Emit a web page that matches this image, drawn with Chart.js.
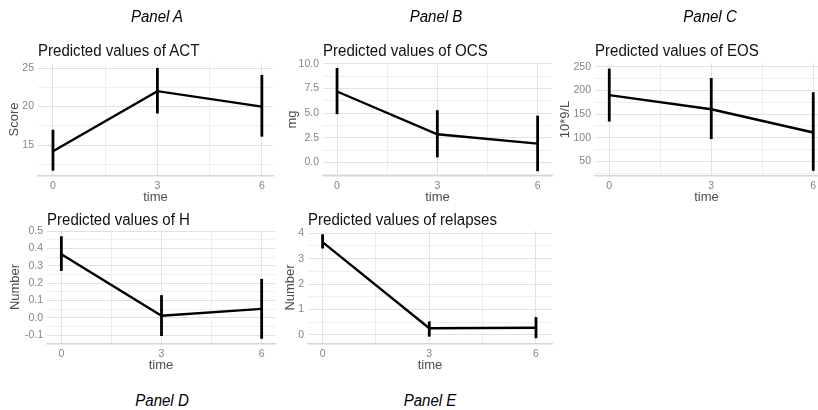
<!DOCTYPE html>
<html><head><meta charset="utf-8">
<script src="https://cdn.jsdelivr.net/npm/chart.js@4/dist/chart.umd.min.js"></script>
<style>
body{margin:0;background:#fff;}
#wrap{position:relative;width:818px;height:410px;overflow:hidden;background:#fff;font-family:"Liberation Sans",Arial,sans-serif;}
.plabel{position:absolute;font-style:italic;font-size:16px;color:#000;transform:translateX(-50%) scaleX(0.94);white-space:nowrap;line-height:18px;}
.ptitle{position:absolute;font-size:16px;color:#111;white-space:nowrap;line-height:18px;transform:scaleX(0.94);transform-origin:0 50%;}
canvas{position:absolute;}
</style></head><body><div id="wrap"></div>
<script>
// ---- data ----
const times = [0, 3, 6];
const xTickLabels = [0, 3, 6];

const actMean = [14.2, 22.0, 20.0];
const actLow  = [11.7, 19.1, 16.1];
const actHigh = [17.0, 25.0, 24.1];
const actTicks = [15, 20, 25];

const ocsMean = [7.2, 2.85, 1.9];
const ocsLow  = [4.9, 0.5, -0.9];
const ocsHigh = [9.6, 5.3, 4.75];
const ocsTicks = [0, 2.5, 5, 7.5, 10];

const eosMean = [190, 160, 111];
const eosLow  = [134, 97, 30];
const eosHigh = [246, 226, 196];
const eosTicks = [50, 100, 150, 200, 250];

const hMean = [0.367, 0.013, 0.052];
const hLow  = [0.27, -0.104, -0.12];
const hHigh = [0.47, 0.131, 0.225];
const hTicks = [-0.1, 0, 0.1, 0.2, 0.3, 0.4, 0.5];

const relMean = [3.65, 0.26, 0.28];
const relLow  = [3.4, -0.07, -0.13];
const relHigh = [3.96, 0.53, 0.7];
const relTicks = [0, 1, 2, 3, 4];

const panelLabels = ["Panel A", "Panel B", "Panel C", "Panel D", "Panel E"];

// ---- drawing ----
const wrap = document.getElementById('wrap');
const FONT = "'Liberation Sans', Arial, sans-serif";
const AXIS_TITLE_SIZE = 13;

function withMinors(majors, min, max) {
  const step = majors.length > 1 ? majors[1] - majors[0] : 1;
  const all = [];
  const first = majors[0] - step / 2, last = majors[majors.length - 1] + step / 2;
  if (first >= min) all.push({v: first, major: false});
  majors.forEach((m, i) => {
    all.push({v: m, major: true});
    if (i < majors.length - 1) all.push({v: m + step / 2, major: false});
  });
  if (last <= max) all.push({v: last, major: false});
  return all.filter(t => t.v >= min - 1e-9 && t.v <= max + 1e-9);
}

function fmt(v, dec) { return dec ? v.toFixed(dec) : String(Math.round(v * 1000) / 1000); }

function makePanel(p) {
  const c = document.createElement('canvas');
  c.width = p.cw; c.height = p.ch;
  c.style.left = p.cx + 'px'; c.style.top = p.cy + 'px';
  wrap.appendChild(c);

  const t = document.createElement('div');
  t.className = 'ptitle'; t.textContent = p.title;
  t.style.left = p.pl + 'px'; t.style.top = (p.titleY - 9) + 'px';
  wrap.appendChild(t);

  const padL = 2;
  const yAxisW = p.pl - p.cx - padL;
  const padT = p.pt - p.cy;
  const padR = Math.max(0, p.cx + p.cw - p.pr);
  const lh = AXIS_TITLE_SIZE * 1.2;
  const xBottom = p.xTitleY - p.cy + lh / 2;
  const xAxisH = xBottom - (p.pb - p.cy);
  const padB = p.ch - xBottom;
  const yTitlePad = Math.max(0, p.yTitleX - p.cx - padL - lh / 2);

  const yAll = withMinors(p.yTicks, p.yMin, p.yMax);
  const xAll = withMinors(xTickLabels, p.xMin, p.xMax);
  const yMajorSet = new Set(p.yTicks.map(v => v.toFixed(4)));
  const xMajorSet = new Set(xTickLabels.map(v => v.toFixed(4)));

  const datasets = [];
  times.forEach((tm, i) => {
    datasets.push({
      data: [{x: tm, y: p.low[i]}, {x: tm, y: p.high[i]}],
      borderColor: '#000', borderWidth: 2.8, pointRadius: 0, borderCapStyle: 'butt'
    });
  });
  datasets.push({
    data: times.map((tm, i) => ({x: tm, y: p.mean[i]})),
    borderColor: '#000', borderWidth: 2.4, pointRadius: 0, tension: 0
  });

  new Chart(c, {
    type: 'line',
    data: {datasets},
    options: {
      responsive: false, animation: false, events: [],
      layout: {padding: {left: padL, top: padT, right: padR, bottom: padB}},
      plugins: {legend: {display: false}, tooltip: {enabled: false}, title: {display: false}},
      scales: {
        x: {
          type: 'linear', min: p.xMin, max: p.xMax,
          afterBuildTicks: s => { s.ticks = xAll.map(o => ({value: o.v})); },
          afterFit: s => { s.height = xAxisH; s.paddingLeft = 0; s.paddingRight = 0; },
          ticks: {
            autoSkip: false, maxRotation: 0, padding: 4,
            color: '#858585', font: {family: FONT, size: 10.5},
            callback: v => xMajorSet.has(Number(v).toFixed(4)) ? String(v) : ''
          },
          grid: {
            drawTicks: false,
            color: ctx => (ctx.tick && xMajorSet.has(Number(ctx.tick.value).toFixed(4))) ? '#e2e2e2' : '#efefef',
            lineWidth: 1
          },
          border: {display: true, color: '#d6d6d6', width: 1.5},
          title: {display: true, text: 'time', color: '#4d4d4d', font: {family: FONT, size: AXIS_TITLE_SIZE}, padding: {top: 0, bottom: 0}}
        },
        y: {
          type: 'linear', min: p.yMin, max: p.yMax,
          afterBuildTicks: s => { s.ticks = yAll.map(o => ({value: o.v})); },
          afterFit: s => { s.width = yAxisW; s.paddingTop = 0; s.paddingBottom = 0; },
          ticks: {
            autoSkip: false, padding: 4,
            color: '#858585', font: {family: FONT, size: 10.5},
            callback: v => yMajorSet.has(Number(v).toFixed(4)) ? fmt(Number(v), p.dec) : ''
          },
          grid: {
            drawTicks: false,
            color: ctx => (ctx.tick && yMajorSet.has(Number(ctx.tick.value).toFixed(4))) ? '#e2e2e2' : '#efefef',
            lineWidth: 1
          },
          border: {display: false},
          title: {display: true, text: p.yTitle, color: '#4d4d4d', font: {family: FONT, size: AXIS_TITLE_SIZE}, padding: {top: yTitlePad, bottom: 0}}
        }
      }
    }
  });
}

makePanel({cx: 0, cy: 40, cw: 280, ch: 165, pl: 38, pt: 63, pr: 273, pb: 176,
  title: 'Predicted values of ACT', titleY: 51, yTitle: 'Score', yTitleX: 14, xTitleY: 197,
  xMin: -0.43, xMax: 6.32, yMin: 11.0, yMax: 25.65, yTicks: actTicks, dec: 0,
  mean: actMean, low: actLow, high: actHigh});

makePanel({cx: 280, cy: 40, cw: 274, ch: 165, pl: 323, pt: 63, pr: 552, pb: 176,
  title: 'Predicted values of OCS', titleY: 51, yTitle: 'mg', yTitleX: 292, xTitleY: 197,
  xMin: -0.42, xMax: 6.43, yMin: -1.39, yMax: 10.1, yTicks: ocsTicks, dec: 1,
  mean: ocsMean, low: ocsLow, high: ocsHigh});

makePanel({cx: 554, cy: 40, cw: 264, ch: 165, pl: 595, pt: 63, pr: 818, pb: 176,
  title: 'Predicted values of EOS', titleY: 51, yTitle: '10*9/L', yTitleX: 565, xTitleY: 197,
  xMin: -0.42, xMax: 6.14, yMin: 19, yMax: 257.8, yTicks: eosTicks, dec: 0,
  mean: eosMean, low: eosLow, high: eosHigh});

makePanel({cx: 0, cy: 205, cw: 280, ch: 170, pl: 47, pt: 230, pr: 275, pb: 344,
  title: 'Predicted values of H', titleY: 220, yTitle: 'Number', yTitleX: 15, xTitleY: 365,
  xMin: -0.43, xMax: 6.4, yMin: -0.15, yMax: 0.506, yTicks: hTicks, dec: 1,
  mean: hMean, low: hLow, high: hHigh});

makePanel({cx: 280, cy: 205, cw: 274, ch: 170, pl: 308, pt: 231, pr: 552, pb: 344,
  title: 'Predicted values of relapses', titleY: 220, yTitle: 'Number', yTitleX: 290, xTitleY: 365,
  xMin: -0.41, xMax: 6.45, yMin: -0.36, yMax: 4.09, yTicks: relTicks, dec: 0,
  mean: relMean, low: relLow, high: relHigh});

const labelPos = [[157, 17], [436, 17], [710, 17], [162, 401], [430, 401]];
panelLabels.forEach((txt, i) => {
  const d = document.createElement('div');
  d.className = 'plabel'; d.textContent = txt;
  d.style.left = labelPos[i][0] + 'px'; d.style.top = (labelPos[i][1] - 9) + 'px';
  wrap.appendChild(d);
});
</script></body></html>
